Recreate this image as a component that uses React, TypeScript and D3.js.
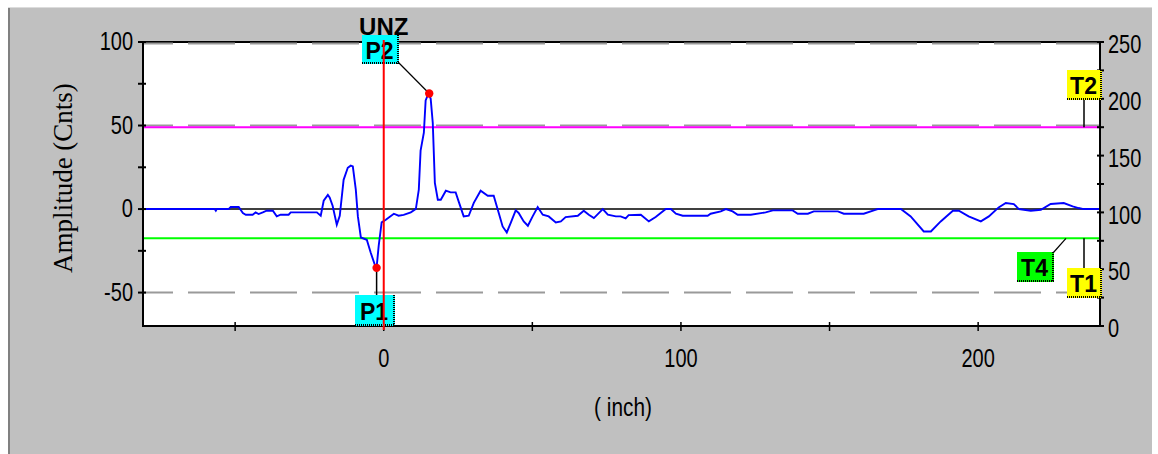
import React from 'react';
import * as d3 from 'd3';

const W = 1158;
const H = 454;

// signal (inch, counts)
const signalX = [-81, -61.6, -56.9, -56.5, -56.2, -52.2, -51.5, -48.8, -47.4, -46.4, -44.1, -43.1, -42.1, -40.7, -39.4, -37.3, -36.0, -34.7, -32.0, -31.3, -22.5, -21.2, -20.2, -18.8, -18.2, -17.2, -15.8, -14.8, -13.5, -12.1, -11.1, -10.4, -9.4, -8.7, -7.7, -5.7, -4.4, -3.0, -2.4, -1.7, -0.7, 0.7, 3.4, 5.0, 6.7, 9.1, 10.8, 11.8, 12.4, 13.5, 14.1, 15.1, 15.8, 16.5, 17.2, 18.2, 19.2, 20.9, 22.5, 24.2, 25.2, 26.9, 28.6, 30.3, 32.6, 35.0, 37.0, 38.7, 40.0, 41.4, 42.7, 44.4, 45.4, 47.1, 48.5, 50.1, 51.8, 53.5, 55.5, 57.9, 59.6, 61.2, 65.3, 67.3, 69.0, 70.7, 73.7, 75.4, 78.1, 79.7, 81.4, 82.4, 86.5, 89.2, 91.5, 94.9, 96.6, 98.3, 100.6, 109.0, 110.0, 113.4, 115.1, 117.4, 119.1, 123.5, 128.5, 130.9, 137.6, 139.3, 142.7, 144.7, 152.8, 154.8, 161.5, 164.9, 166.2, 174.0, 177.3, 181.7, 184.1, 187.4, 191.5, 193.5, 196.8, 200.9, 203.6, 206.9, 209.3, 212.0, 213.7, 217.7, 221.1, 224.4, 228.8, 231.8, 233.8, 235.5, 241];
const signalY = [0, 0, 0, -1, 0, 0, 1.2, 1.2, -2.4, -3.4, -3.4, -2, -3, -2, -1, -1, -4.4, -3.4, -3.4, -2, -2, -4, 5, 8.5, 7, 2, -9.4, -4, 17.5, 24.7, 26, 25.5, 11.6, -4.4, -17, -18.4, -26, -33.4, -35, -22, -8, -6.4, -2.8, -4, -3.5, -2, 0, 11.6, 35, 45.7, 65, 69.4, 66, 51.5, 15.7, 5.6, 5.6, 11, 10, 10, 4.6, -4.4, -4, 3.7, 11, 8, 8, -2.3, -10.4, -14, -8.4, -0.8, -2.3, -7.4, -10, -4.4, 1.2, -3.4, -4.4, -8, -7.4, -4.8, -4, -1, -3.4, -5.4, 0, -3.4, -4.4, -4.4, -5.6, -3.6, -3.4, -7.4, -4.8, 0, 0, -2.8, -4, -4, -2.8, -1.4, 0, -1.4, -3.4, -3.4, -2, -0.8, -0.8, -2.8, -2.8, -1.4, -1.4, -2.8, -2.8, -0.8, 0, 0, -4.4, -13.4, -13.4, -7.4, -1, -1, -4.4, -7.4, -4.4, 1, 3.6, 3, 0, -1, -0.4, 3, 3.6, 1.6, 0.6, 0, 0];

const leftTicks = [-50, -25, 0, 25, 50, 75, 100];
const leftLabels = [-50, 0, 50, 100];
const rightTicks = [0, 25, 50, 75, 100, 125, 150, 175, 200, 225, 250];
const rightLabels = [0, 50, 100, 150, 200, 250];
const xTicks = [-50, 0, 50, 100, 150, 200];
const xLabels = [0, 100, 200];
const gridLevels = [100, 50, -50];
const magentaLevel = 49;
const greenLevel = -17.5;
const cursorX = 0;
const peakP1 = { name: 'P1', x: -2.4, y: -35.2 };
const peakP2 = { name: 'P2', x: 15.3, y: 69.2 };

const L = 143, R = 1100, T = 42, B = 326;

const x = d3.scaleLinear().domain([-81, 241]).range([L, R]);
const yL = d3.scaleLinear().domain([-70, 100]).range([B, T]);
const yR = d3.scaleLinear().domain([0, 250]).range([B, T]);

const tickFont = "'Liberation Sans', Arial, sans-serif";

function NarrowText({ x: tx, y: ty, anchor, children, size = 25 }: any) {
  return (
    <text
      transform={`translate(${tx},${ty}) scale(0.8,1)`}
      textAnchor={anchor}
      dominantBaseline="central"
      fontFamily={tickFont}
      fontSize={size}
      fill="#000"
    >
      {children}
    </text>
  );
}

function LabelBox({ x0, y0, w, h, fill, text }: any) {
  return (
    <g>
      <rect x={x0} y={y0} width={w} height={h} fill={fill} />
      <line x1={x0 + w - 1} y1={y0} x2={x0 + w - 1} y2={y0 + h} stroke="#000" strokeWidth={2} strokeDasharray="1 1" />
      <line x1={x0} y1={y0 + h - 1} x2={x0 + w} y2={y0 + h - 1} stroke="#000" strokeWidth={2} strokeDasharray="1 1" />
      <text x={x0 + (w - 2) / 2} y={y0 + h / 2 + 1} textAnchor="middle" dominantBaseline="central"
        fontFamily={tickFont} fontWeight="bold" fontSize={23} fill="#000">{text}</text>
    </g>
  );
}

export default function App() {
  const line = d3.line<number>()
    .x((_, i) => x(signalX[i]))
    .y((d) => yL(d));
  const path = line(signalY) || '';

  const p1x = x(peakP1.x), p1y = yL(peakP1.y);
  const p2x = x(peakP2.x), p2y = yL(peakP2.y);
  const cx = x(cursorX);
  const gy = yL(greenLevel);
  const my = yL(magentaLevel);

  return (
    <svg width={W} height={H} style={{ position: 'absolute', left: 0, top: 0, display: 'block' }}>
      <rect x={0} y={0} width={W} height={H} fill="#fff" />
      <rect x={8} y={7} width={1144} height={H - 7} fill="#c0c0c0" />
      <line x1={9} y1={7} x2={9} y2={H} stroke="#808080" strokeWidth={2} />
      <line x1={8} y1={7.5} x2={1152} y2={7.5} stroke="#dcdcdc" strokeWidth={1} />

      {/* title */}
      <text x={cx} y={35} textAnchor="middle" fontFamily={tickFont} fontWeight="bold" fontSize={24} fill="#000">UNZ</text>

      {/* plot area */}
      <rect x={L} y={T} width={R - L} height={B - T} fill="#fff" />

      {/* top border */}
      <line x1={L} y1={T} x2={R} y2={T} stroke="#000" strokeWidth={2} />

      {/* grid */}
      {gridLevels.map((g) => (
        <line key={g} x1={L} y1={yL(g) + (g === 100 ? 1.5 : 0)} x2={R} y2={yL(g) + (g === 100 ? 1.5 : 0)}
          stroke="#9a9a9a" strokeWidth={2} strokeDasharray="47 15" strokeDashoffset={17} />
      ))}

      {/* zero line */}
      <line x1={L} y1={yL(0)} x2={R} y2={yL(0)} stroke="#000" strokeWidth={1.5} />

      {/* threshold lines */}
      <line x1={L} y1={my} x2={R} y2={my} stroke="#ff00ff" strokeWidth={2} />
      <line x1={L} y1={gy} x2={R} y2={gy} stroke="#00ff00" strokeWidth={2} />

      {/* signal */}
      <path d={path} fill="none" stroke="#0000ff" strokeWidth={1.9} />

      {/* axes */}
      <line x1={L} y1={T} x2={L} y2={B + 1} stroke="#000" strokeWidth={2} />
      <line x1={L - 1} y1={B} x2={R} y2={B} stroke="#000" strokeWidth={2} />
      <line x1={R} y1={T - 1} x2={R} y2={B + 1} stroke="#000" strokeWidth={2} />

      {leftTicks.map((t) => (
        <line key={'lt' + t} x1={L - 5} x2={L + 3} y1={yL(t)} y2={yL(t)} stroke="#000" strokeWidth={2} />
      ))}
      {leftLabels.map((t) => (
        <NarrowText key={'ll' + t} x={133} y={yL(t)} anchor="end">{t}</NarrowText>
      ))}

      {rightTicks.map((t) => (
        <line key={'rt' + t} x1={R - 3} x2={R + 4} y1={yR(t)} y2={yR(t)} stroke="#000" strokeWidth={2} />
      ))}
      {rightLabels.map((t) => (
        <NarrowText key={'rl' + t} x={1108} y={yR(t) + 3} anchor="start">{t}</NarrowText>
      ))}

      {xTicks.map((t) => (
        <line key={'xt' + t} x1={x(t)} x2={x(t)} y1={B - 4} y2={B + 5} stroke="#000" strokeWidth={1.5} />
      ))}
      {xLabels.map((t) => (
        <NarrowText key={'xl' + t} x={x(t)} y={359} anchor="middle">{t}</NarrowText>
      ))}

      <NarrowText x={623} y={407} anchor="middle" size={26}>( inch)</NarrowText>

      <text transform={`translate(72,178) rotate(-90)`} textAnchor="middle"
        fontFamily="'Liberation Serif', 'Times New Roman', serif" fontSize={27} fill="#000">Amplitude (Cnts)</text>

      {/* connectors */}
      <line x1={398} y1={62} x2={p2x} y2={p2y} stroke="#000" strokeWidth={1.2} />
      <line x1={p1x} y1={p1y} x2={p1x} y2={296} stroke="#000" strokeWidth={1.5} />
      <line x1={1084} y1={99} x2={1084} y2={my} stroke="#000" strokeWidth={1.5} />
      <line x1={1084} y1={269} x2={1084} y2={gy} stroke="#000" strokeWidth={1.5} />
      <line x1={1053} y1={253} x2={1066} y2={gy} stroke="#000" strokeWidth={1.2} />

      {/* peak dots */}
      <circle cx={p1x} cy={p1y} r={4.2} fill="#ff0000" />
      <circle cx={p2x} cy={p2y} r={4.2} fill="#ff0000" />

      {/* labels */}
      <LabelBox x0={362} y0={35} w={37} h={29} fill="#00ffff" text="P2" />
      <LabelBox x0={355} y0={295} w={40} h={31} fill="#00ffff" text="P1" />
      <LabelBox x0={1067} y0={70} w={35} h={30} fill="#ffff00" text="T2" />
      <LabelBox x0={1067} y0={268} w={35} h={30} fill="#ffff00" text="T1" />
      <LabelBox x0={1017} y0={252} w={37} h={30} fill="#00ff00" text="T4" />

      {/* cursor */}
      <line x1={cx} y1={40} x2={cx} y2={330} stroke="#ff0000" strokeWidth={2} />
    </svg>
  );
}
